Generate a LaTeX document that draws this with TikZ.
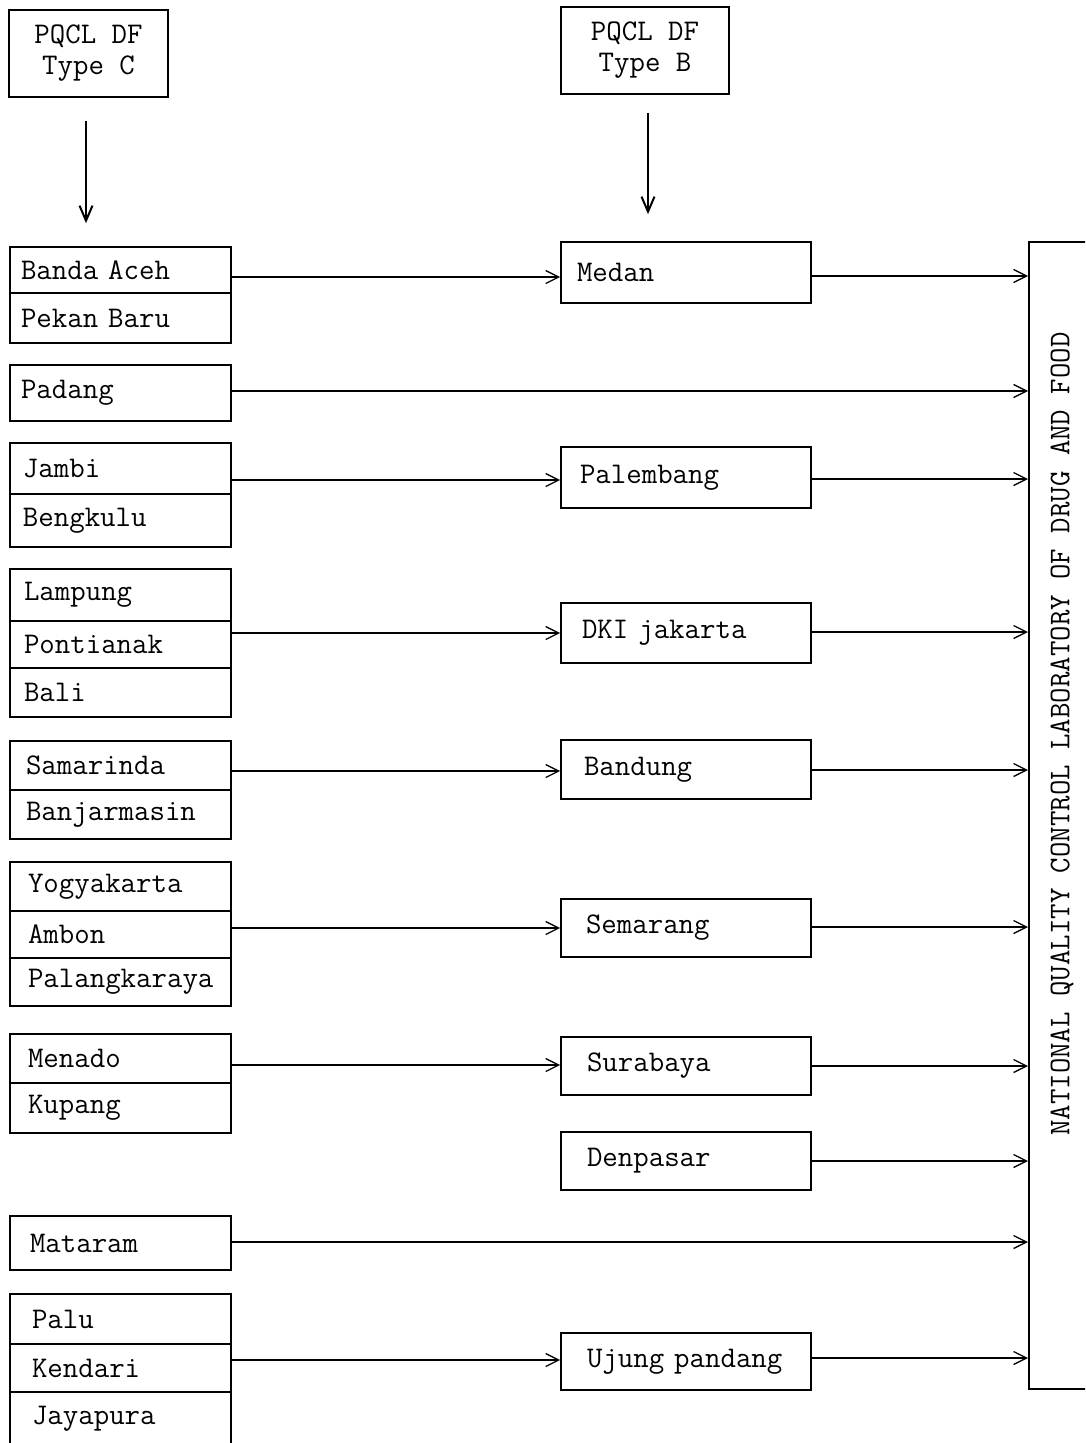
\documentclass[tikz,border=0pt]{standalone}
\usetikzlibrary{arrows.meta}
\tikzset{
  cell/.style n args={3}{draw, line width=1.7pt, minimum height=#1, inner xsep=#2, text width=#3, align=left, inner ysep=0pt},
  topbox/.style={draw, line width=1.7pt, minimum width=#1, minimum height=87pt, align=center, inner sep=0pt},
  harr/.style={line width=1.3pt, -{Straight Barb[length=13pt,width=13pt,line width=1.3pt]}},
  varr/.style={line width=2pt, -{Straight Barb[length=15pt,width=13pt,line width=2pt]}},
  bigbox/.style={draw, line width=1.7pt, anchor=north west, minimum width=130pt, minimum height=1147pt, inner sep=0pt}
}
\begin{document}
\begin{tikzpicture}[x=1pt,y=-1pt]
\ttfamily\fontsize{30}{31}\selectfont
\clip (0,0) rectangle (1085,1443);
\fill[white] (0,0) rectangle (1085,1443);

% top boxes
\node[topbox=159pt] (tc) at (88.5,53.5) {PQCL DF\\Type C};
\node[topbox=168pt] (tb) at (645,50.5) {PQCL DF\\Type B};

% left stacks
\node[cell={46pt}{11pt}{199pt}] (ba) at (120.5,270) {Banda Aceh};
\node[cell={50pt}{11pt}{199pt}] (pb) at (120.5,318) {Pekan Baru};
\node[cell={56pt}{11pt}{199pt}] (pd) at (120.5,393) {Padang};
\node[cell={51pt}{13pt}{195pt}] (jm) at (120.5,468.5) {Jambi};
\node[cell={53pt}{13pt}{195pt}] (bk) at (120.5,520.5) {Bengkulu};
\node[cell={52pt}{14pt}{193pt}] (lp) at (120.5,595) {Lampung};
\node[cell={47pt}{14pt}{193pt}] (pt) at (120.5,644.5) {Pontianak};
\node[cell={49pt}{14pt}{193pt}] (bl) at (120.5,692.5) {Bali};
\node[cell={49pt}{16pt}{189pt}] (sm) at (120.5,765.5) {Samarinda};
\node[cell={49pt}{16pt}{189pt}] (bj) at (120.5,814.5) {Banjarmasin};
\node[cell={49pt}{18pt}{185pt}] (yg) at (120.5,886.5) {Yogyakarta};
\node[cell={47pt}{18pt}{185pt}] (am) at (120.5,934.5) {Ambon};
\node[cell={48pt}{18pt}{185pt}] (pk) at (120.5,982) {Palangkaraya};
\node[cell={49pt}{18pt}{185pt}] (mn) at (120.5,1058.5) {Menado};
\node[cell={50pt}{18pt}{185pt}] (kp) at (120.5,1108) {Kupang};
\node[cell={54pt}{20pt}{181pt}] (mt) at (120.5,1243) {Mataram};
\node[cell={50pt}{22pt}{177pt}] (pl) at (120.5,1319) {Palu};
\node[cell={48pt}{22pt}{177pt}] (kd) at (120.5,1368) {Kendari};
\node[cell={54pt}{22pt}{177pt}] (jp) at (120.5,1419) {Jayapura};

% middle boxes
\node[cell={61pt}{16pt}{218pt}] (med) at (686,272.5) {Medan};
\node[cell={61pt}{19pt}{212pt}] (plb) at (686,477.5) {Palembang};
\node[cell={60pt}{21pt}{208pt}] (dki) at (686,633) {DKI jakarta};
\node[cell={59pt}{23pt}{204pt}] (bdg) at (686,769.5) {Bandung};
\node[cell={58pt}{25pt}{200pt}] (smg) at (686,928) {Semarang};
\node[cell={58pt}{26pt}{198pt}] (sby) at (686,1066) {Surabaya};
\node[cell={58pt}{26pt}{198pt}] (dps) at (686,1161) {Denpasar};
\node[cell={57pt}{26pt}{198pt}] (ujp) at (686,1361.5) {Ujung pandang};

% national lab box
\node[bigbox] (nq) at (1028,241) {};
\node[rotate=90] (nqt) at (1062,734) {NATIONAL QUALITY CONTROL LABORATORY OF DRUG AND FOOD};

% vertical arrows
\draw[varr, shorten <=23pt, shorten >=23pt] ([xshift=-2.5pt]tc.south) -- ([xshift=-2.5pt]tc.south |- ba.north);
\draw[varr, shorten <=18pt, shorten >=27pt] ([xshift=3pt]tb.south) -- ([xshift=3pt]tb.south |- med.north);

% left -> middle
\draw[harr] (ba.east |- 0,277) -- (med.west |- 0,277);
\draw[harr] (jm.east |- 0,480) -- (plb.west |- 0,480);
\draw[harr] (pt.east |- 0,633) -- (dki.west |- 0,633);
\draw[harr] (sm.east |- 0,771) -- (bdg.west |- 0,771);
\draw[harr] (am.east |- 0,928) -- (smg.west |- 0,928);
\draw[harr] (mn.east |- 0,1065) -- (sby.west |- 0,1065);
\draw[harr] (kd.east |- 0,1360) -- (ujp.west |- 0,1360);

% direct left -> lab
\draw[harr] (pd.east |- 0,391) -- (nq.west |- 0,391);
\draw[harr] (mt.east |- 0,1242) -- (nq.west |- 0,1242);

% middle -> lab
\draw[harr] (med.east |- 0,276) -- (nq.west |- 0,276);
\draw[harr] (plb.east |- 0,479) -- (nq.west |- 0,479);
\draw[harr] (dki.east |- 0,632) -- (nq.west |- 0,632);
\draw[harr] (bdg.east |- 0,770) -- (nq.west |- 0,770);
\draw[harr] (smg.east |- 0,927) -- (nq.west |- 0,927);
\draw[harr] (sby.east |- 0,1066) -- (nq.west |- 0,1066);
\draw[harr] (dps.east |- 0,1161) -- (nq.west |- 0,1161);
\draw[harr] (ujp.east |- 0,1358) -- (nq.west |- 0,1358);
\end{tikzpicture}
\end{document}
